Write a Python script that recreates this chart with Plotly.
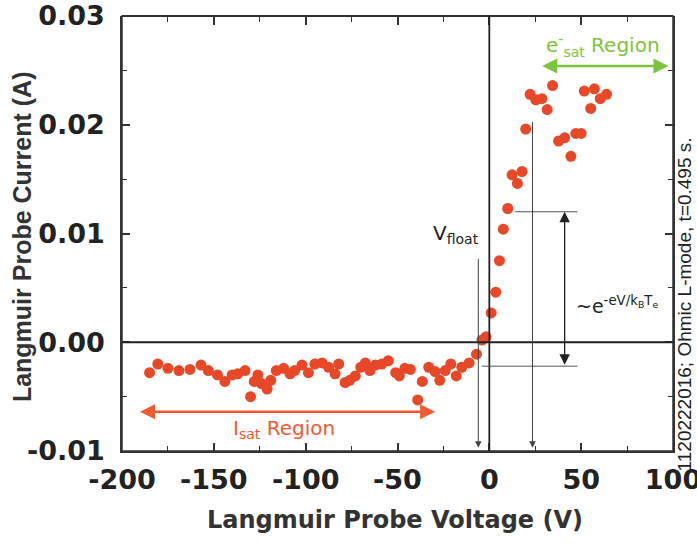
import plotly.graph_objects as go

# probe voltage (V) and current (A)
voltage = [-185, -180.5, -175, -169, -163, -157, -153, -148, -144, -140, -137, -133,
           -130, -128, -126, -124, -121, -119, -116, -112, -108.5, -106, -102, -98.5,
           -95, -91, -87.5, -84, -82, -78.5, -76, -73, -70, -67.5, -65, -62, -58.5,
           -55, -51, -49, -46, -43, -39, -36.5, -33, -29.5, -27, -24, -21, -18, -15,
           -11, -7, -4, -1.8, 1, 3.5, 5.5, 7.6, 10, 12.4, 15.3, 17.8, 19.8, 22.2,
           25.3, 28.6, 31.5, 34.4, 37.7, 41, 44.4, 47.1, 50, 51.7, 55.2, 57.2, 60.4, 63.8]
current = [-0.0028, -0.0020, -0.0024, -0.0026, -0.0025, -0.0021, -0.0026, -0.0030,
           -0.0036, -0.0030, -0.0029, -0.0026, -0.0050, -0.0036, -0.0030, -0.0038,
           -0.0043, -0.0035, -0.0026, -0.0024, -0.0029, -0.0026, -0.0021, -0.0028,
           -0.0020, -0.0019, -0.0023, -0.0029, -0.0020, -0.0037, -0.0035, -0.0031,
           -0.0023, -0.0019, -0.0026, -0.0021, -0.0020, -0.0017, -0.0028, -0.0031,
           -0.0024, -0.0025, -0.0053, -0.0036, -0.0023, -0.0027, -0.0035, -0.0026,
           -0.0020, -0.0031, -0.0023, -0.0019, -0.0011, 0.0002, 0.0005, 0.0027,
           0.0046, 0.0075, 0.0104, 0.0123, 0.0154, 0.0146, 0.0157, 0.0196, 0.0228,
           0.0223, 0.0224, 0.0214, 0.0236, 0.0185, 0.0188, 0.0171, 0.0192, 0.0192,
           0.0231, 0.0215, 0.0233, 0.0224, 0.0228]

x_ticks = [-200, -150, -100, -50, 0, 50, 100]
y_ticks = [-0.01, 0.00, 0.01, 0.02, 0.03]
x_range = [-200, 100]
y_range = [-0.01, 0.03]

v_float = -6
phi_p = 23.5

TICKFONT = dict(family="DejaVu Sans", size=27, color="#222")

fig = go.Figure()
fig.add_trace(go.Scatter(
    x=voltage, y=current, mode="markers",
    marker=dict(size=11, color="rgb(232,72,40)", line=dict(width=0)),
    showlegend=False, hoverinfo="skip"))
# invisible trace to activate the mirrored (top/right) tick axes
fig.add_trace(go.Scatter(x=[x_range[0]], y=[y_range[0]], xaxis="x2", yaxis="y2",
                         mode="markers", marker=dict(opacity=0), showlegend=False,
                         hoverinfo="skip"))

axis_common = dict(showgrid=False, zeroline=False, showline=True, linecolor="#333",
                   linewidth=1.5, ticks="inside", ticklen=8,
                   tickwidth=1.5, tickcolor="#333")
xminor = dict(ticks="inside", ticklen=5, dtick=25, tickcolor="#333", tickwidth=1.2)
yminor = dict(ticks="inside", ticklen=5, dtick=0.005, tickcolor="#333", tickwidth=1.2)

fig.update_layout(
    xaxis=dict(range=x_range, tickvals=x_ticks,
               ticktext=[f"<b>{t}</b>" for t in x_ticks], tickfont=TICKFONT,
               ticklabeloverflow="allow", minor=xminor, ticklabelstandoff=4,
               **axis_common),
    yaxis=dict(range=y_range, tickvals=y_ticks,
               ticktext=[f"<b>{t:.2f}</b>" for t in y_ticks], tickfont=TICKFONT,
               ticklabeloverflow="allow", minor=yminor, ticklabelstandoff=10,
               **axis_common),
    xaxis2=dict(range=x_range, tickvals=x_ticks, overlaying="x", side="top",
                anchor="free", position=1,
                showticklabels=False, minor=xminor, **axis_common),
    yaxis2=dict(range=y_range, tickvals=y_ticks, overlaying="y", side="right", anchor="x2",
                showticklabels=False, minor=yminor, **axis_common),
)

shapes = [
    dict(type="rect", xref="paper", yref="paper", x0=0, x1=1, y0=0, y1=1,
         line=dict(color="#333", width=1.5), layer="above"),
    dict(type="line", x0=-200, x1=100, y0=0, y1=0, line=dict(color="#222", width=1.8)),
    dict(type="line", x0=0, x1=0, y0=-0.01, y1=0.03, line=dict(color="#222", width=1.8)),
    dict(type="line", x0=14, x1=48, y0=0.012, y1=0.012, line=dict(color="#555", width=1)),
    dict(type="line", x0=-4, x1=48, y0=-0.0022, y1=-0.0022, line=dict(color="#555", width=1)),
]
fig.update_layout(shapes=shapes)

ann = []
def arrow(x, y, ax, ay, color, width, head, size, side="end"):
    ann.append(dict(x=x, y=y, ax=ax, ay=ay, xref="x", yref="y", axref="x", ayref="y",
                    showarrow=True, arrowcolor=color, arrowwidth=width, arrowhead=head,
                    arrowsize=size, arrowside=side, text=""))

# V_float and Phi_P arrows
arrow(v_float, -0.0097, v_float, 0.0078, "#444", 1, 2, 1.3)
arrow(phi_p, -0.0097, phi_p, 0.0204, "#444", 1, 2, 1.3)
# Te double arrow
arrow(41, 0.0120, 41, -0.0022, "#222", 1.3, 2, 1.6, "end+start")
# e_sat region arrow
arrow(97.5, 0.0254, 28, 0.0254, "rgb(125,195,60)", 2.5, 2, 1.2, "end+start")
# I_sat region arrow
arrow(-29.5, -0.0064, -191, -0.0064, "rgb(240,90,50)", 2.5, 2, 1.2, "end+start")

ann += [
    dict(x=-4.4, y=0.0086, xref="x", yref="y", showarrow=False, xanchor="right", yanchor="bottom",
         text="V<sub>float</sub>", font=dict(family="DejaVu Sans", size=20, color="#222")),
    dict(x=25, y=-0.0126, xref="x", yref="y", showarrow=False, xanchor="center", yanchor="middle",
         text="Φ<sub>P</sub>", font=dict(family="DejaVu Sans", size=19, color="#222")),
    dict(x=46.3, y=0.0034, xref="x", yref="y", showarrow=False, xanchor="left", yanchor="middle",
         text="~e<sup>-eV/k<sub>B</sub>T<sub>e</sub></sup>",
         font=dict(family="DejaVu Sans", size=19, color="#222")),
    dict(x=61.7, y=0.0273, xref="x", yref="y", showarrow=False, xanchor="center", yanchor="middle",
         text="e<sup>-</sup><sub>sat</sub> Region",
         font=dict(family="DejaVu Sans", size=20, color="rgb(125,195,60)")),
    dict(x=-112, y=-0.0080, xref="x", yref="y", showarrow=False, xanchor="center", yanchor="middle",
         text="I<sub>sat</sub> Region",
         font=dict(family="DejaVu Sans", size=20, color="rgb(240,90,50)")),
    dict(x=1.021, y=0.336, xref="paper", yref="paper", showarrow=False, textangle=-90,
         xanchor="center", yanchor="middle",
         text="1120222016; Ohmic L-mode, t=0.495 s.",
         font=dict(family="Liberation Sans", size=19, color="#222")),
    dict(x=-0.1815, y=0.494, xref="paper", yref="paper", showarrow=False, textangle=-90,
         xanchor="center", yanchor="middle",
         text="<b>Langmuir Probe Current (A)</b>",
         font=dict(family="Liberation Sans", size=25, color="#333")),
    dict(x=0.4955, y=-0.158, xref="paper", yref="paper", showarrow=False,
         xanchor="center", yanchor="middle",
         text="<b>Langmuir Probe Voltage (V)</b>",
         font=dict(family="DejaVu Sans", size=24, color="#333")),
]
fig.update_layout(annotations=ann)

fig.update_layout(width=697, height=543,
                  margin=dict(l=122, r=24, t=16, b=92, autoexpand=False),
                  plot_bgcolor="white", paper_bgcolor="white")
fig.write_html("out.html", config={"displayModeBar": False},
               post_script="document.body.style.margin='0';document.body.style.overflow='hidden';")
